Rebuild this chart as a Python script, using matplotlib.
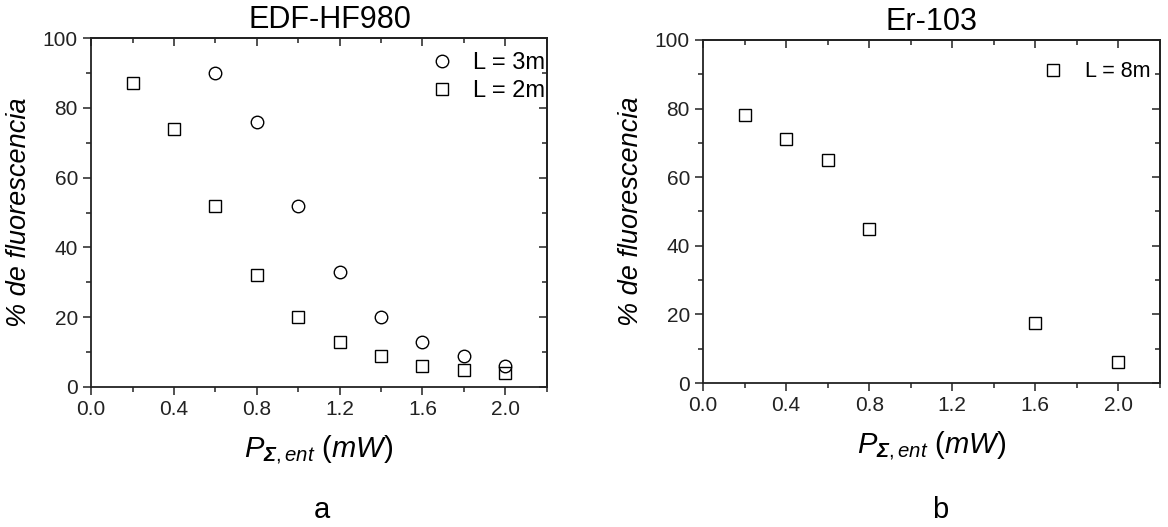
import matplotlib
matplotlib.use('Agg')
from matplotlib import pyplot as plt
from matplotlib.ticker import MultipleLocator, NullFormatter

plt.rcParams['font.family'] = ['Liberation Sans', 'DejaVu Sans']
plt.rcParams['mathtext.fontset'] = 'custom'
plt.rcParams['mathtext.rm'] = 'Liberation Sans'
plt.rcParams['mathtext.it'] = 'Liberation Sans:italic'
plt.rcParams['mathtext.bf'] = 'Liberation Sans:bold:italic'

# panel a: EDF-HF980
x_3m = [0.6, 0.8, 1.0, 1.2, 1.4, 1.6, 1.8, 2.0]
y_3m = [90, 76, 52, 33, 20, 13, 9, 6]
x_2m = [0.2, 0.4, 0.6, 0.8, 1.0, 1.2, 1.4, 1.6, 1.8, 2.0]
y_2m = [87, 74, 52, 32, 20, 13, 9, 6, 5, 4]

# panel b: Er-103
x_8m = [0.2, 0.4, 0.6, 0.8, 1.6, 2.0]
y_8m = [78, 71, 65, 45, 17.5, 6]

xlabel = r'$\mathit{P}_{\mathbf{\Sigma},\mathit{ent}}$ $\mathit{(mW)}$'
ylabel = '% de fluorescencia'
INK = '#222222'


def set_locators(axis, major, minor):
    axis.set_major_locator(MultipleLocator(major))
    axis.set_minor_locator(MultipleLocator(minor))


def style_axes(ax):
    ax.set_xlim(0, 2.2)
    ax.set_ylim(0, 100)
    set_locators(ax.xaxis, 0.4, 0.2)
    set_locators(ax.yaxis, 20, 10)
    ax.xaxis.set_major_formatter(plt.FuncFormatter(lambda v, p: f'{v:.1f}'))
    ax.tick_params(which='both', direction='out', labelsize=15, colors=INK)
    ax.tick_params(which='major', length=6, width=1.1)
    ax.tick_params(which='minor', length=3.5, width=1.1)
    for s in ax.spines.values():
        s.set_linewidth(1.3)
        s.set_color(INK)

    # top and right ticks point inward
    top = ax.secondary_xaxis('top')
    set_locators(top.xaxis, 0.4, 0.2)
    top.xaxis.set_major_formatter(NullFormatter())
    right = ax.secondary_yaxis('right')
    set_locators(right.yaxis, 20, 10)
    right.yaxis.set_major_formatter(NullFormatter())
    for sec in (top, right):
        sec.tick_params(which='both', direction='in', colors=INK)
        sec.tick_params(which='major', length=6, width=1.1)
        sec.tick_params(which='minor', length=3.5, width=1.1)
        for s in sec.spines.values():
            s.set_linewidth(1.3)
            s.set_color(INK)

    ax.set_xlabel(xlabel, fontsize=21, labelpad=10)
    ax.set_ylabel(ylabel, fontsize=19.5, style='italic', labelpad=8)


fig = plt.figure(figsize=(11.68, 5.27), dpi=100)

ax1 = fig.add_axes([0.078, 0.2657, 0.390, 0.662])
ax1.plot(x_3m, y_3m, 'o', mfc='none', mec='black', mew=1.0, ms=9, label='L = 3m')
ax1.plot(x_2m, y_2m, 's', mfc='none', mec='black', mew=1.0, ms=8, label='L = 2m')
style_axes(ax1)
ax1.set_title('EDF-HF980', fontsize=22, pad=7, x=0.524)
ax1.legend(loc='upper right', frameon=False, fontsize=17, handletextpad=0.5,
           handlelength=1.6, borderaxespad=0.0, borderpad=0.3, labelspacing=0.25,
           bbox_to_anchor=(1.011, 0.98))

ax2 = fig.add_axes([0.602, 0.2732, 0.391, 0.651])
ax2.plot(x_8m, y_8m, 's', mfc='none', mec='black', mew=1.0, ms=8, label='L = 8m')
style_axes(ax2)
ax2.set_title('Er-103', fontsize=22, pad=7)
ax2.legend(loc='upper right', frameon=False, fontsize=15.5, handletextpad=0.6,
           handlelength=1.8, borderaxespad=0.3, borderpad=0.5,
           bbox_to_anchor=(1.0175, 0.988))

fig.text(0.2757, 0.032, 'a', fontsize=21, ha='center', va='center')
fig.text(0.805, 0.032, 'b', fontsize=21, ha='center', va='center')

plt.savefig('out.png')
